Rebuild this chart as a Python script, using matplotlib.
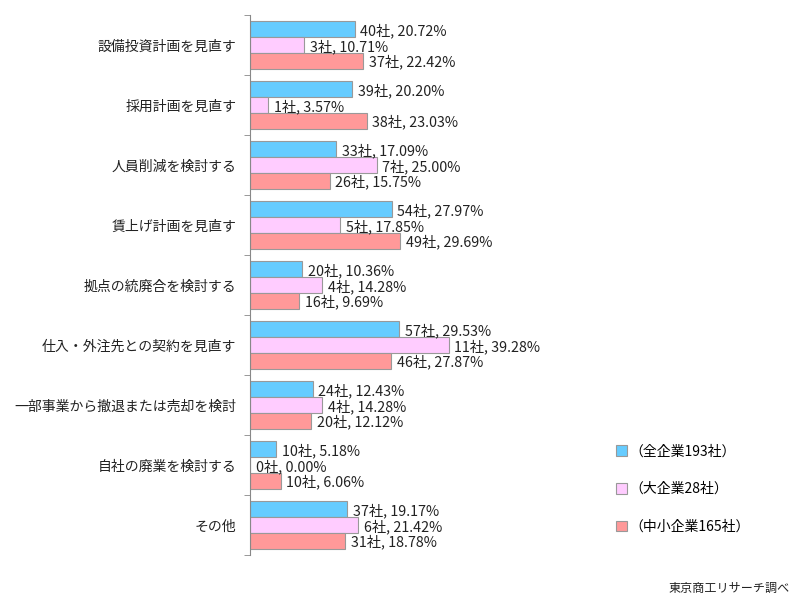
import matplotlib
matplotlib.use("Agg")
import matplotlib.pyplot as plt
import numpy as np

plt.rcParams['font.family'] = ['Noto Sans CJK JP', 'DejaVu Sans']

categories = ["設備投資計画を見直す", "採用計画を見直す", "人員削減を検討する", "賃上げ計画を見直す",
              "拠点の統廃合を検討する", "仕入・外注先との契約を見直す", "一部事業から撤退または売却を検討",
              "自社の廃業を検討する", "その他"]
series_names = ["（全企業193社）", "（大企業28社）", "（中小企業165社）"]
all_cnt = [40, 39, 33, 54, 20, 57, 24, 10, 37]
all_pct = [20.72, 20.20, 17.09, 27.97, 10.36, 29.53, 12.43, 5.18, 19.17]
large_cnt = [3, 1, 7, 5, 4, 11, 4, 0, 6]
large_pct = [10.71, 3.57, 25.00, 17.85, 14.28, 39.28, 14.28, 0.00, 21.42]
small_cnt = [37, 38, 26, 49, 16, 46, 20, 10, 31]
small_pct = [22.42, 23.03, 15.75, 29.69, 9.69, 27.87, 12.12, 6.06, 18.78]
source = "東京商工リサーチ調べ"

colors = ["#66CCFF", "#FFCCFF", "#FF9999"]

fig = plt.figure(figsize=(8.09, 6.11), dpi=100)
ax = fig.add_axes([250/809, 1-555/611, 253/809, 540/611])

n = len(categories)
y = np.arange(n)
h = 0.262
cnts = [all_cnt, large_cnt, small_cnt]
pcts = [all_pct, large_pct, small_pct]
handles = []
for i in range(3):
    yy = y + (i - 1) * h
    b = ax.barh(yy, pcts[i], height=h, color=colors[i], edgecolor="#999999", linewidth=0.8)
    handles.append(b)
    for yv, c, p in zip(yy, cnts[i], pcts[i]):
        ax.annotate(f"{c}社, {p:.2f}%", xy=(p, yv), xytext=(4, -1), textcoords="offset points",
                    va="center", ha="left", fontsize=10.3, color="#222222")

ax.set_xlim(0, 50)
ax.set_ylim(n - 0.5, -0.5)
ax.set_yticks(y)
ax.set_yticklabels(categories, fontsize=10, color="#222222")
ax.set_yticks(np.arange(-0.5, n, 1), minor=True)
ax.tick_params(axis="y", which="major", length=0, pad=10)
ax.tick_params(axis="y", which="minor", length=4, color="#888888", direction="out")
ax.set_xticks([])
for s in ["top", "right", "bottom"]:
    ax.spines[s].set_visible(False)
ax.spines["left"].set_color("#888888")

fig.legend(handles, series_names, loc="upper left", bbox_to_anchor=(603/809, 1-432/611),
           frameon=False, fontsize=10, handlelength=0.8, handleheight=0.8,
           labelspacing=1.7, handletextpad=0.2)
fig.text(790/809, 1-588/611, source, ha="right", va="center", fontsize=8.7, color="#222222")

fig.savefig("out.png", dpi=100)
